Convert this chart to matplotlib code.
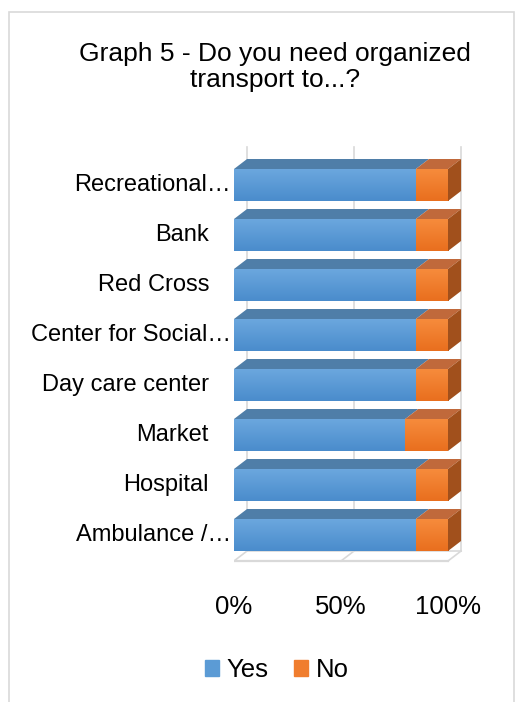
import numpy as np
import matplotlib
matplotlib.use("Agg")
import matplotlib.pyplot as plt
from matplotlib.patches import Polygon, Rectangle, Patch
from matplotlib.colors import LinearSegmentedColormap

plt.rcParams['font.family'] = ['Liberation Sans', 'DejaVu Sans']

# survey answers, bottom row first
categories = ['Ambulance /…', 'Hospital', 'Market', 'Day care center',
              'Center for Social…', 'Red Cross', 'Bank', 'Recreational…']
yes = [0.85, 0.85, 0.80, 0.85, 0.85, 0.85, 0.85, 0.85]
no = [0.15, 0.15, 0.20, 0.15, 0.15, 0.15, 0.15, 0.15]
tick_vals = [0, 0.5, 1.0]
tick_labels = ['0%', '50%', '100%']

W, H = 522, 702
fig = plt.figure(figsize=(W / 100, H / 100), dpi=100)

# light chart border
fig.patches.append(Rectangle((9 / W, -0.01), 505 / W, 1 - 12 / H + 0.01,
                             transform=fig.transFigure, fill=False,
                             edgecolor='#d9d9d9', linewidth=1.2))

fig.text(275 / W, 1 - 67 / H, 'Graph 5 - Do you need organized\ntransport to...?',
         ha='center', va='center', fontsize=19, linespacing=1.08)

ax_l, ax_b, ax_w, ax_h = 234, 573, 236, 430
ax = fig.add_axes([ax_l / W, 1 - ax_b / H, ax_w / W, ax_h / H])
ax.set_xlim(0, ax_w / 214)
ax.set_ylim(-0.76, -0.76 + ax_h / 50)
ax.axis('off')

h = 0.64      # front face height
dx, dy = 0.061, 0.2   # 3d depth
grid = '#d9d9d9'
y_front = -0.52
y_back = y_front + dy
y_top = 7.76

# back wall grid and floor
for v in tick_vals:
    ax.plot([v + dx, v + dx], [y_back, y_top], color=grid, lw=1.2, zorder=1)
    ax.plot([v, v + dx], [y_front, y_back], color=grid, lw=1.2, zorder=1)
ax.plot([-0.02, 1.0], [y_front, y_front], color=grid, lw=1.6, zorder=1)
ax.plot([dx, 1 + dx], [y_back, y_back], color=grid, lw=1.2, zorder=1)
ax.plot([-0.01, -0.01], [y_front, y_top - 0.3], color=grid, lw=1.6, zorder=1)

blue_cm = LinearSegmentedColormap.from_list('b', ['#4a8ccc', '#6ba7de'])
orange_cm = LinearSegmentedColormap.from_list('o', ['#e96f1e', '#f68b3c'])
blue, blue_top = '#5b9bd5', '#4f7ea8'
orange, orange_top, orange_side = '#f07d2e', '#c0693b', '#a1501c'
grad = np.linspace(0, 1, 64).reshape(-1, 1)


def front_face(left, width, yc, cmap):
    bar = ax.barh(yc, width, height=h, left=left, color='none', zorder=3)[0]
    im = ax.imshow(grad, cmap=cmap, aspect='auto', origin='lower', zorder=3,
                   extent=(left, left + width, yc - h / 2, yc + h / 2))
    im.set_clip_path(bar)


for i, (a, b) in enumerate(zip(yes, no)):
    front_face(0, a, i, blue_cm)
    front_face(a, b, i, orange_cm)
    t = i + h / 2
    ax.add_patch(Polygon([(0, t), (a, t), (a + dx, t + dy), (dx, t + dy)],
                         closed=True, color=blue_top, lw=0, zorder=3))
    ax.add_patch(Polygon([(a, t), (a + b, t), (a + b + dx, t + dy), (a + dx, t + dy)],
                         closed=True, color=orange_top, lw=0, zorder=3))
    e = a + b
    ax.add_patch(Polygon([(e, i - h / 2), (e + dx, i - h / 2 + dy),
                          (e + dx, t + dy), (e, t)],
                         closed=True, color=orange_side, lw=0, zorder=3))
    # truncated labels run a little further right
    off = -3 if categories[i].endswith('…') else -25
    ax.text(off / ax_w, i, categories[i], transform=ax.get_yaxis_transform(),
            ha='right', va='center', fontsize=17)

ax.set_xlim(0, ax_w / 214)
ax.set_ylim(-0.76, -0.76 + ax_h / 50)

for v, lab in zip(tick_vals, tick_labels):
    ax.text(v, -(607 - ax_b) / ax_h, lab, transform=ax.get_xaxis_transform(),
            ha='center', va='center', fontsize=18.5)

handles = [Patch(color=blue, label='Yes'), Patch(color=orange, label='No')]
fig.legend(handles=handles, loc='center', bbox_to_anchor=(277 / W, 1 - 670 / H),
           ncol=2, frameon=False, handlelength=0.55, handleheight=0.55,
           handletextpad=0.3, columnspacing=1.0, fontsize=18.5)

fig.savefig('out.png', dpi=100)
